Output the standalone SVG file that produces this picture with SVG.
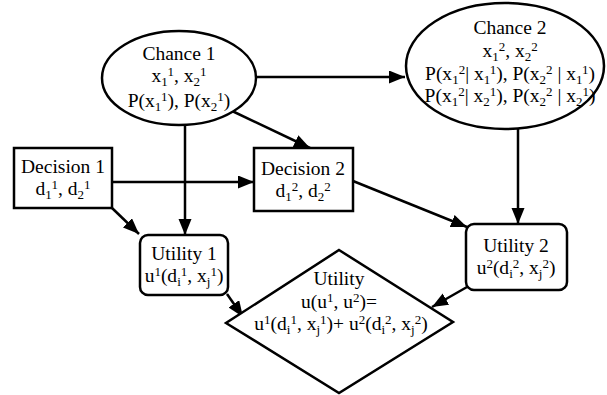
<svg xmlns="http://www.w3.org/2000/svg" width="607" height="395" viewBox="0 0 607 395">
<style>
.shape{fill:#fff;stroke:#000;stroke-width:2.5}
.edge{fill:none;stroke:#000;stroke-width:2.5;marker-end:url(#ah)}
text{font-family:"Liberation Serif","Times New Roman",serif;font-size:19.5px;fill:#000;text-anchor:middle}
.s{font-size:13px}
</style>
<defs>
<marker id="ah" markerUnits="userSpaceOnUse" markerWidth="18" markerHeight="14" refX="16" refY="6.5" orient="auto">
<path d="M0,0 L16,6.5 L0,13 z" fill="#000"/>
</marker>
</defs>
<rect width="607" height="395" fill="#fff"/>
<g id="connectors">
<line class="edge" x1="256" y1="77" x2="405" y2="77"/>
<line class="edge" x1="185" y1="125" x2="185" y2="235"/>
<line class="edge" x1="230" y1="110" x2="310" y2="148"/>
<line class="edge" x1="112" y1="182" x2="254" y2="182"/>
<line class="edge" x1="112" y1="208" x2="139" y2="234"/>
<line class="edge" x1="353" y1="181" x2="467" y2="227"/>
<line class="edge" x1="518" y1="129" x2="518" y2="224"/>
<line class="edge" x1="227" y1="294" x2="243" y2="317"/>
<line class="edge" x1="467" y1="287" x2="432" y2="307"/>
</g>
<g id="chance1">
<ellipse class="shape" cx="179" cy="78" rx="77" ry="47"/>
<text x="179" y="60">Chance 1</text>
<text x="179" y="82">x<tspan class="s" baseline-shift="-4">1</tspan><tspan class="s" baseline-shift="6">1</tspan>, x<tspan class="s" baseline-shift="-4">2</tspan><tspan class="s" baseline-shift="6">1</tspan></text>
<text x="179" y="107">P(x<tspan class="s" baseline-shift="-4">1</tspan><tspan class="s" baseline-shift="6">1</tspan>), P(x<tspan class="s" baseline-shift="-4">2</tspan><tspan class="s" baseline-shift="6">1</tspan>)</text>
</g>
<g id="chance2">
<ellipse class="shape" cx="505" cy="66" rx="99" ry="63"/>
<text x="510" y="34">Chance 2</text>
<text x="510" y="57">x<tspan class="s" baseline-shift="-4">1</tspan><tspan class="s" baseline-shift="6">2</tspan>, x<tspan class="s" baseline-shift="-4">2</tspan><tspan class="s" baseline-shift="6">2</tspan></text>
<text x="510" y="80">P(x<tspan class="s" baseline-shift="-4">1</tspan><tspan class="s" baseline-shift="6">2</tspan>| x<tspan class="s" baseline-shift="-4">1</tspan><tspan class="s" baseline-shift="6">1</tspan>), P(x<tspan class="s" baseline-shift="-4">2</tspan><tspan class="s" baseline-shift="6">2</tspan> | x<tspan class="s" baseline-shift="-4">1</tspan><tspan class="s" baseline-shift="6">1</tspan>)</text>
<text x="510" y="102">P(x<tspan class="s" baseline-shift="-4">1</tspan><tspan class="s" baseline-shift="6">2</tspan>| x<tspan class="s" baseline-shift="-4">2</tspan><tspan class="s" baseline-shift="6">1</tspan>), P(x<tspan class="s" baseline-shift="-4">2</tspan><tspan class="s" baseline-shift="6">2</tspan> | x<tspan class="s" baseline-shift="-4">2</tspan><tspan class="s" baseline-shift="6">1</tspan>)</text>
</g>
<g id="decision1">
<rect class="shape" x="14" y="148" width="98" height="60"/>
<text x="63" y="173">Decision 1</text>
<text x="63" y="195">d<tspan class="s" baseline-shift="-4">1</tspan><tspan class="s" baseline-shift="6">1</tspan>, d<tspan class="s" baseline-shift="-4">2</tspan><tspan class="s" baseline-shift="6">1</tspan></text>
</g>
<g id="decision2">
<rect class="shape" x="254" y="148" width="99" height="63"/>
<text x="303" y="175">Decision 2</text>
<text x="303" y="197">d<tspan class="s" baseline-shift="-4">1</tspan><tspan class="s" baseline-shift="6">2</tspan>, d<tspan class="s" baseline-shift="-4">2</tspan><tspan class="s" baseline-shift="6">2</tspan></text>
</g>
<g id="utility1">
<rect class="shape" x="140" y="235" width="88" height="60" rx="8"/>
<text x="184" y="260">Utility 1</text>
<text x="184" y="282">u<tspan class="s" baseline-shift="6">1</tspan>(d<tspan class="s" baseline-shift="-4">i</tspan><tspan class="s" baseline-shift="6">1</tspan>, x<tspan class="s" baseline-shift="-4">j</tspan><tspan class="s" baseline-shift="6">1</tspan>)</text>
</g>
<g id="utility2">
<rect class="shape" x="466" y="224" width="101" height="66" rx="8"/>
<text x="516" y="252">Utility 2</text>
<text x="516" y="274">u<tspan class="s" baseline-shift="6">2</tspan>(d<tspan class="s" baseline-shift="-4">i</tspan><tspan class="s" baseline-shift="6">2</tspan>, x<tspan class="s" baseline-shift="-4">j</tspan><tspan class="s" baseline-shift="6">2</tspan>)</text>
</g>
<g id="utility">
<polygon class="shape" points="339,250 453,322 339,393 226,323"/>
<text x="339" y="285">Utility</text>
<text x="339" y="308">u(u<tspan class="s" baseline-shift="6">1</tspan>, u<tspan class="s" baseline-shift="6">2</tspan>)=</text>
<text x="341" y="330">u<tspan class="s" baseline-shift="6">1</tspan>(d<tspan class="s" baseline-shift="-4">i</tspan><tspan class="s" baseline-shift="6">1</tspan>, x<tspan class="s" baseline-shift="-4">j</tspan><tspan class="s" baseline-shift="6">1</tspan>)+ u<tspan class="s" baseline-shift="6">2</tspan>(d<tspan class="s" baseline-shift="-4">i</tspan><tspan class="s" baseline-shift="6">2</tspan>, x<tspan class="s" baseline-shift="-4">j</tspan><tspan class="s" baseline-shift="6">2</tspan>)</text>
</g>
</svg>
